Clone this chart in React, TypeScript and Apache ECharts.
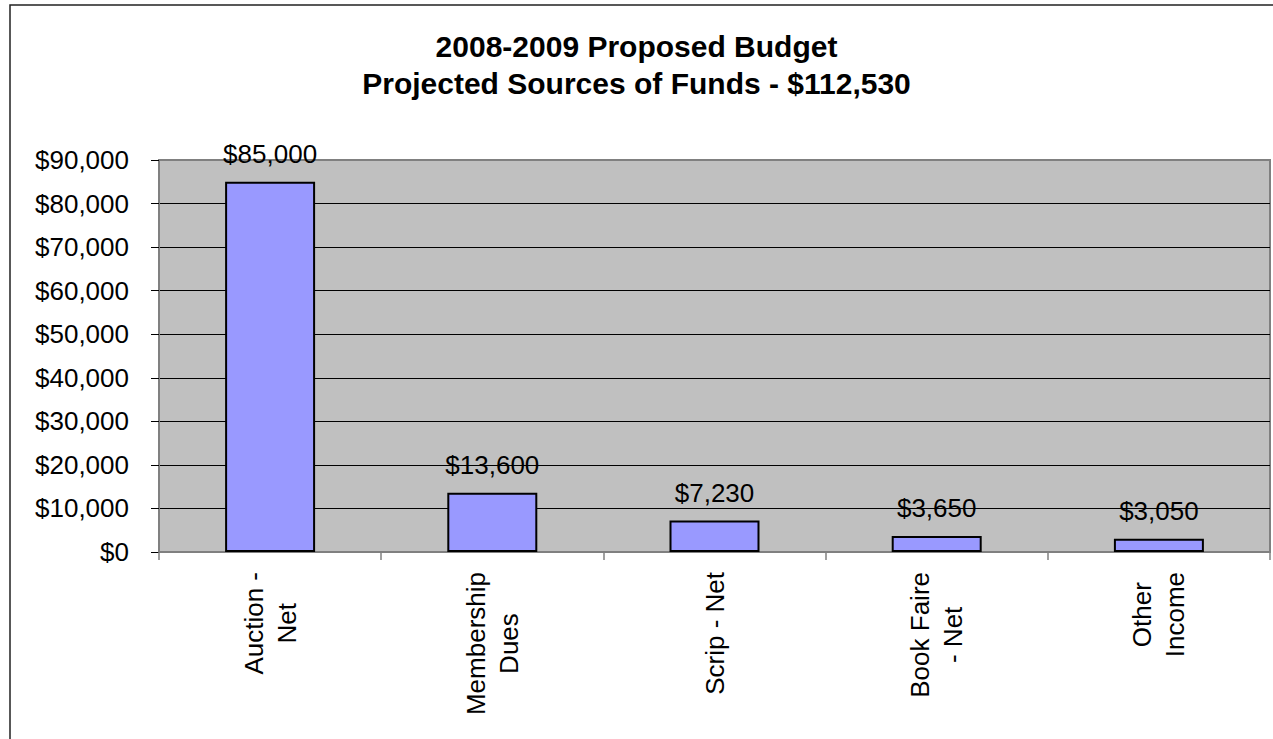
import React, { useEffect, useRef } from "react";
import * as echarts from "echarts";

const titleLines = ["2008-2009 Proposed Budget", "Projected Sources of Funds - $112,530"];
const categories = ["Auction -\nNet", "Membership\nDues", "Scrip - Net", "Book Faire\n- Net", "Other\nIncome"];
const values = [85000, 13600, 7230, 3650, 3050];
const yMin = 0;
const yMax = 90000;
const yInterval = 10000;

const FONT = "'Liberation Sans', Arial, Helvetica, sans-serif";
const money = (v: number) => "$" + Math.round(v).toLocaleString("en-US");

export default function App() {
  const ref = useRef<HTMLDivElement>(null);
  useEffect(() => {
    if (!ref.current) return;
    const chart = echarts.init(ref.current, undefined, { renderer: "svg" });
    chart.setOption({
      animation: false,
      backgroundColor: "#ffffff",
      textStyle: { fontFamily: FONT },
      title: {
        text: titleLines.join("\n"),
        left: "center",
        top: 23,
        textStyle: {
          fontFamily: FONT,
          fontSize: 30,
          fontWeight: "bold",
          color: "#000",
          lineHeight: 37,
        },
      },
      graphic: [
        {
          type: "rect",
          shape: { x: 10, y: 5, width: 1275, height: 760 },
          style: { fill: "none", stroke: "#222", lineWidth: 1.5 },
          silent: true,
          z: 100,
        },
      ],
      grid: {
        left: 159,
        right: 3,
        top: 160,
        bottom: 187,
        show: true,
        backgroundColor: "#C0C0C0",
        borderColor: "#808080",
        borderWidth: 2,
      },
      xAxis: {
        type: "category",
        data: categories,
        boundaryGap: true,
        axisLine: { show: true, lineStyle: { color: "#808080", width: 2 } },
        axisTick: { show: true, alignWithLabel: false, length: 8, lineStyle: { color: "#808080", width: 1.5 } },
        axisLabel: {
          interval: 0,
          rotate: 90,
          margin: 20,
          color: "#000",
          fontFamily: FONT,
          fontSize: 26,
          formatter: (v: string) =>
            v
              .split("\n")
              .map((l) => "{c|" + l + "}")
              .join("\n"),
          rich: {
            c: { align: "center", fontSize: 26, lineHeight: 33, fontFamily: FONT, color: "#000" },
          },
        },
        splitLine: { show: false },
      },
      yAxis: {
        type: "value",
        min: yMin,
        max: yMax,
        interval: yInterval,
        axisLine: { show: true, lineStyle: { color: "#808080", width: 2 } },
        axisTick: { show: true, length: 8, lineStyle: { color: "#000", width: 1 } },
        axisLabel: {
          margin: 30,
          color: "#000",
          fontFamily: FONT,
          fontSize: 26,
          formatter: (v: number) => money(v),
        },
        splitLine: { show: true, showMaxLine: false, lineStyle: { color: "#000", width: 1 } },
      },
      series: [
        {
          type: "bar",
          data: values,
          barWidth: "40.5%",
          itemStyle: { color: "#9999FF", borderColor: "#000", borderWidth: 2 },
          label: {
            show: true,
            position: "top",
            distance: 15,
            color: "#000",
            fontFamily: FONT,
            fontSize: 26,
            formatter: (p: any) => money(p.value),
          },
        },
      ],
    });
    return () => chart.dispose();
  }, []);
  return (
    <div
      ref={ref}
      style={{ position: "fixed", left: 0, top: 0, width: 1273, height: 739 }}
    />
  );
}
